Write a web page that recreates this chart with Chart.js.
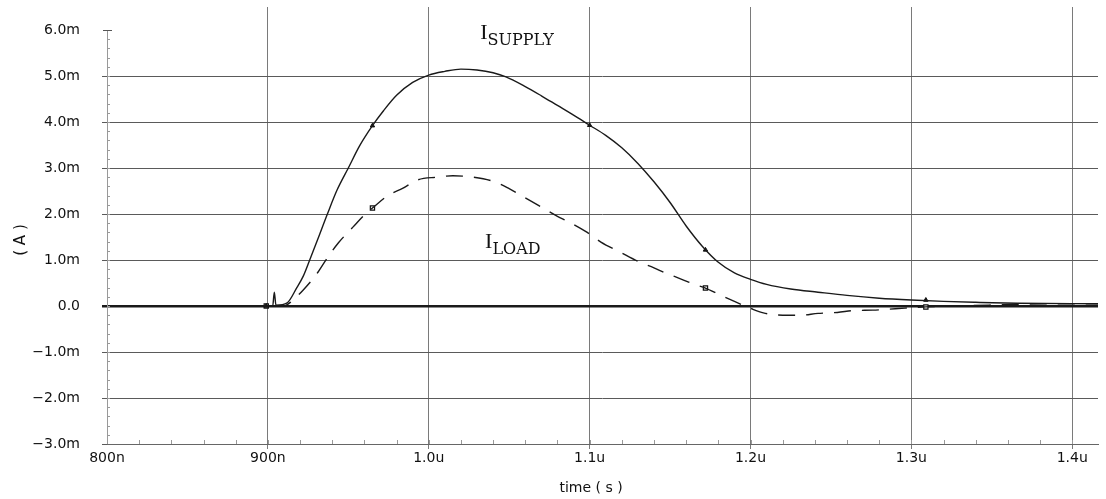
<!DOCTYPE html>
<html lang="en">
<head>
    <meta charset="UTF-8">
    <title>Supply and load current</title>
    <style>
        body {
            margin: 0;
            padding: 0;
            background: #fff;
        }
        .wrap {
            width: 1106px;
            height: 499px;
        }
    </style>
</head>
<body>
    <div class="wrap"><canvas id="chart" width="1106" height="499"></canvas></div>

    <script src="https://cdn.jsdelivr.net/npm/chart.js"></script>
    <script>
        // time in ns, current in mA
        const supplyTime = [800, 903, 904, 905, 912, 918, 922, 926, 931, 937, 943, 950, 957, 965, 972, 980, 990, 1000, 1010, 1020, 1030, 1040, 1048, 1060, 1070, 1080, 1090, 1100, 1110, 1120, 1130, 1140, 1150, 1160, 1170, 1180, 1190, 1200, 1210, 1225, 1242, 1260, 1280, 1300, 1320, 1340, 1366, 1416];
        const supplyCurrent = [0, 0, 0.3, 0.02, 0.07, 0.4, 0.65, 1.0, 1.45, 2.0, 2.52, 3.0, 3.48, 3.92, 4.25, 4.58, 4.86, 5.02, 5.1, 5.15, 5.13, 5.07, 4.98, 4.77, 4.57, 4.36, 4.15, 3.93, 3.71, 3.44, 3.1, 2.7, 2.25, 1.74, 1.3, 0.95, 0.72, 0.58, 0.47, 0.37, 0.3, 0.23, 0.17, 0.13, 0.1, 0.08, 0.06, 0.05];

        const loadTime = [800, 910, 914, 922, 930, 937, 944, 953, 960, 965, 975, 984, 993, 1005, 1015, 1028, 1041, 1050, 1060, 1070, 1080, 1087, 1098, 1107, 1119, 1130, 1140, 1147, 1158, 1165, 1172, 1181, 1190, 1200, 1208, 1220, 1231, 1242, 1254, 1264, 1276, 1290, 1309, 1326, 1348, 1370, 1416];
        const loadCurrent = [0, 0, 0.08, 0.35, 0.68, 1.05, 1.38, 1.72, 1.98, 2.13, 2.41, 2.56, 2.74, 2.8, 2.83, 2.8, 2.7, 2.55, 2.35, 2.15, 1.95, 1.83, 1.61, 1.39, 1.17, 0.97, 0.83, 0.72, 0.57, 0.47, 0.39, 0.24, 0.1, -0.05, -0.15, -0.2, -0.2, -0.16, -0.14, -0.1, -0.09, -0.06, -0.02, 0, 0.02, 0.04, 0.05];

        const supplyMarkTime = [899, 965, 1100, 1172, 1309];
        const supplyMarkCurrent = [0, 3.92, 3.93, 1.22, 0.13];
        const loadMarkTime = [899, 965, 1172, 1309];
        const loadMarkCurrent = [0, 2.13, 0.39, -0.02];

        const xTicks = [800, 900, 1000, 1100, 1200, 1300, 1400];
        const yTicks = [-3, -2, -1, 0, 1, 2, 3, 4, 5, 6];

        function pairs(xs, ys) {
            return xs.map((x, i) => ({ x: x, y: ys[i] }));
        }

        function timeLabel(v) {
            return v < 1000 ? v + 'n' : (v / 1000).toFixed(1) + 'u';
        }

        function ampLabel(v) {
            if (v === 0) return '0.0';
            return (v < 0 ? '\u2212' : '') + Math.abs(v).toFixed(1) + 'm';
        }

        // axis line, minor ticks and axis titles
        const axisDecor = {
            id: 'axisDecor',
            afterDraw(chart) {
                const ctx = chart.ctx;
                const xs = chart.scales.x;
                const ys = chart.scales.y;
                const area = chart.chartArea;
                ctx.save();
                ctx.strokeStyle = '#999';
                ctx.lineWidth = 1;
                ctx.beginPath();
                const left = Math.round(area.left) + 0.5;
                ctx.moveTo(left, Math.round(ys.getPixelForValue(6)));
                ctx.lineTo(left, area.bottom);
                for (let t = 820; t <= 1416; t += 20) {
                    const px = Math.round(xs.getPixelForValue(t)) + 0.5;
                    ctx.moveTo(px, area.bottom);
                    ctx.lineTo(px, area.bottom - 4);
                }
                for (let a = -2.8; a <= 6.01; a += 0.2) {
                    const py = Math.round(ys.getPixelForValue(a)) + 0.5;
                    ctx.moveTo(area.left, py);
                    ctx.lineTo(area.left + 3, py);
                }
                ctx.stroke();
                // short tick at 6.0m
                ctx.strokeStyle = '#555';
                ctx.beginPath();
                const p6 = Math.round(ys.getPixelForValue(6)) + 0.5;
                ctx.moveTo(area.left - 4, p6);
                ctx.lineTo(area.left + 5, p6);
                ctx.stroke();

                ctx.fillStyle = '#111';
                ctx.font = '14px "DejaVu Sans"';
                ctx.textAlign = 'center';
                ctx.textBaseline = 'middle';
                ctx.fillText('time ( s )', 591, 488);
                ctx.translate(21, 240);
                ctx.rotate(-Math.PI / 2);
                ctx.font = '15px "DejaVu Sans"';
                ctx.fillText('( A )', 0, 0);
                ctx.restore();
            }
        };

        // I_SUPPLY / I_LOAD annotations
        const curveNames = {
            id: 'curveNames',
            afterDraw(chart) {
                const ctx = chart.ctx;
                const xs = chart.scales.x;
                const ys = chart.scales.y;
                const names = [
                    { t: 1032, a: 5.8, sub: 'SUPPLY' },
                    { t: 1035, a: 1.26, sub: 'LOAD' }
                ];
                ctx.save();
                ctx.fillStyle = '#111';
                ctx.textBaseline = 'alphabetic';
                ctx.textAlign = 'left';
                names.forEach(n => {
                    const px = xs.getPixelForValue(n.t);
                    const py = ys.getPixelForValue(n.a);
                    ctx.font = '22px "Liberation Serif"';
                    ctx.fillText('I', px, py);
                    const w = ctx.measureText('I').width;
                    ctx.font = '16px "DejaVu Serif"';
                    ctx.fillText(n.sub, px + w, py + 6);
                });
                ctx.restore();
            }
        };

        new Chart(document.getElementById('chart'), {
            type: 'line',
            data: {
                datasets: [
                    {
                        label: 'I SUPPLY',
                        data: pairs(supplyTime, supplyCurrent),
                        borderColor: '#1a1a1a',
                        borderWidth: 1.4,
                        pointRadius: 0,
                        cubicInterpolationMode: 'monotone'
                    },
                    {
                        label: 'I LOAD',
                        data: pairs(loadTime, loadCurrent),
                        borderColor: '#1a1a1a',
                        borderWidth: 1.4,
                        borderDash: [17, 11],
                        pointRadius: 0,
                        cubicInterpolationMode: 'monotone'
                    },
                    {
                        label: 'supply markers',
                        data: pairs(supplyMarkTime, supplyMarkCurrent),
                        showLine: false,
                        pointStyle: 'triangle',
                        pointRadius: 2.5,
                        borderColor: '#111',
                        backgroundColor: '#111',
                        borderWidth: 1
                    },
                    {
                        label: 'load markers',
                        data: pairs(loadMarkTime, loadMarkCurrent),
                        showLine: false,
                        pointStyle: 'rect',
                        pointRadius: 3,
                        borderColor: '#111',
                        backgroundColor: '#fff',
                        borderWidth: 1.2
                    }
                ]
            },
            options: {
                responsive: false,
                animation: false,
                layout: { padding: { top: 7, right: 8, left: 0, bottom: 0 } },
                plugins: {
                    legend: { display: false },
                    tooltip: { enabled: false }
                },
                scales: {
                    x: {
                        type: 'linear',
                        min: 800,
                        max: 1416,
                        afterBuildTicks: scale => { scale.ticks = xTicks.map(v => ({ value: v })); },
                        afterFit: scale => {
                            scale.height = 55;
                            scale.paddingLeft = 0;
                            scale.paddingRight = 0;
                        },
                        grid: {
                            color: ctx => ctx.tick && ctx.tick.value === 800 ? 'rgba(0,0,0,0)' : '#7a7a7a',
                            lineWidth: 1,
                            tickLength: 5
                        },
                        border: { display: true, color: '#666', width: 1 },
                        ticks: {
                            color: '#111',
                            padding: 1,
                            maxRotation: 0,
                            font: { family: '"DejaVu Sans", sans-serif', size: 14 },
                            callback: v => timeLabel(v)
                        }
                    },
                    y: {
                        type: 'linear',
                        min: -3,
                        max: 6.5,
                        afterBuildTicks: scale => { scale.ticks = yTicks.map(v => ({ value: v })); },
                        afterFit: scale => {
                            scale.width = 107;
                            scale.paddingTop = 0;
                            scale.paddingBottom = 0;
                        },
                        grid: {
                            color: ctx => {
                                if (!ctx.tick) return '#5a5a5a';
                                if (ctx.tick.value === 6) return 'rgba(0,0,0,0)';
                                if (ctx.tick.value === 0) return '#1a1a1a';
                                return '#5a5a5a';
                            },
                            lineWidth: ctx => ctx.tick && ctx.tick.value === 0 ? 2.5 : 1,
                            tickLength: 5
                        },
                        border: { display: false },
                        ticks: {
                            color: '#111',
                            padding: 22,
                            font: { family: '"DejaVu Sans", sans-serif', size: 14 },
                            callback: v => ampLabel(v)
                        }
                    }
                }
            },
            plugins: [axisDecor, curveNames]
        });
    </script>
</body>
</html>
